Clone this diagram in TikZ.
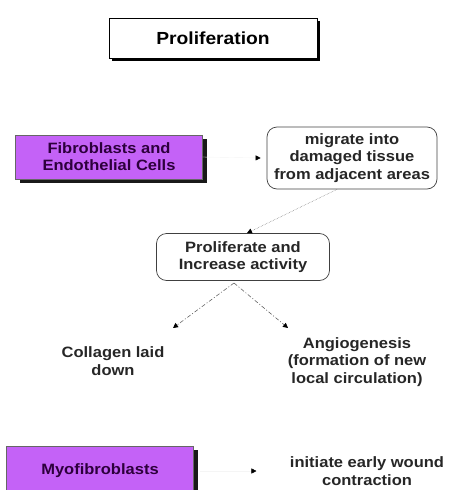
\documentclass[tikz,border=0pt]{standalone}
\usepackage{fontspec}
\setmainfont[FakeStretch=1.1]{Liberation Sans}
\usetikzlibrary{arrows.meta,shadows}
\definecolor{violetbox}{RGB}{196,98,247}
\definecolor{darkpurple}{RGB}{45,0,60}
\tikzset{
  lbl/.style={font=\bfseries\fontsize{15}{17.5}\selectfont, align=center, text=black!85},
  violet/.style={draw=black!60, fill=violetbox, text=darkpurple, line width=0.4pt,
    font=\bfseries\fontsize{15}{17}\selectfont, align=center, inner sep=0pt,
    drop shadow={shadow xshift=4pt, shadow yshift=-4pt, opacity=1, fill=black!90}},
  titlebox/.style={draw=black, fill=white, line width=0.8pt, inner sep=0pt,
    font=\bfseries\fontsize{17.5}{19}\selectfont,
    drop shadow={shadow xshift=3pt, shadow yshift=-3pt, opacity=1, fill=black}},
  roundbox/.style={draw=black!75, line width=0.7pt, rounded corners=10pt, inner sep=0pt, align=center,
    font=\bfseries\fontsize{15}{17.5}\selectfont, text=black!85},
  tip/.style={-{Triangle[length=5pt,width=5pt,color=black]}},
  dashconn/.style={tip, draw=black!60, line width=0.6pt, dash pattern=on 4pt off 2pt on 1pt off 2pt}
}
\begin{document}
\begin{tikzpicture}[x=1pt,y=-1pt]
\useasboundingbox (0,0) rectangle (449,490);
% title
\node[titlebox, minimum width=208pt, minimum height=40pt] (title) at (213,38) {Proliferation};
% fibroblasts
\node[violet, minimum width=187pt, minimum height=44pt] (fib) at (109,157) {Fibroblasts and\\Endothelial Cells};
% migrate
\node[roundbox, minimum width=170pt, minimum height=62pt] (mig) at (352,158) {migrate into\\damaged tissue\\from adjacent areas};
% proliferate
\node[roundbox, minimum width=173pt, minimum height=47pt] (pro) at (243,257) {Proliferate and\\Increase activity};
% outcomes
\node[lbl] (col) at (113,361) {Collagen laid\\down};
\node[lbl] (ang) at (357,362) {Angiogenesis\\(formation of new\\local circulation)};
% myofibroblasts
\node[violet, minimum width=187pt, minimum height=50pt] (myo) at (100,471) {Myofibroblasts};
\node[lbl] (ini) at (367,471) {initiate early wound\\contraction};
% connectors
\draw[tip, draw=black!4] (fib.east) -- ([xshift=-6pt]mig.west);
\draw[tip, draw=black!55, line width=0.5pt, densely dotted] ([xshift=-15pt]mig.south) -- ([xshift=4pt]pro.north);
\coordinate (split) at (234,283);
\draw[dashconn] (split) -- (173,328);
\draw[dashconn] (split) -- (288,328);
\draw[tip, draw=black!4] ([xshift=6pt]myo.east) -- ([xshift=-30pt]ini.west);
\end{tikzpicture}
\end{document}
